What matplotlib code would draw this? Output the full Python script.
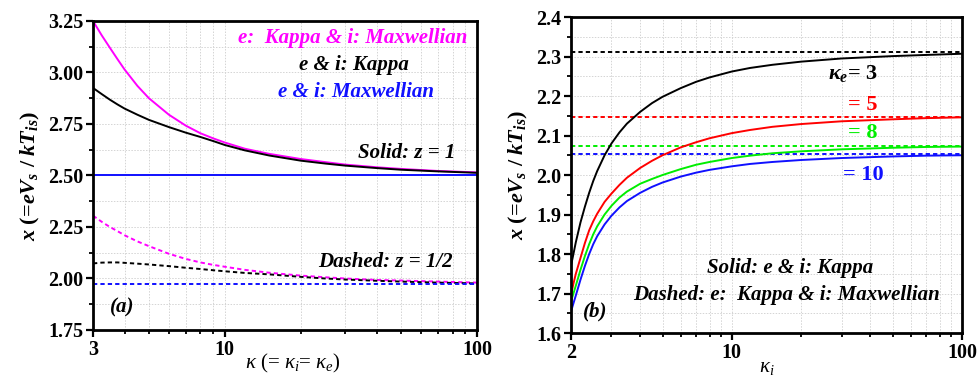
import numpy as np
import matplotlib
matplotlib.use("Agg")
import matplotlib.pyplot as plt
from matplotlib.ticker import FixedLocator, MultipleLocator, NullFormatter, FixedFormatter

plt.rcParams['font.family'] = 'Liberation Serif'
plt.rcParams['mathtext.fontset'] = 'custom'
plt.rcParams['mathtext.rm'] = 'Liberation Serif'
plt.rcParams['mathtext.it'] = 'Liberation Serif:italic'
plt.rcParams['mathtext.bf'] = 'Liberation Serif:bold'
plt.rcParams['mathtext.bfit'] = 'Liberation Serif:bold:italic'

# ---------------- Panel (a) data ----------------
kappa_a = [3, 3.25, 3.5, 3.75, 4, 4.5, 5, 6, 7, 8, 9, 10, 12, 15, 20, 25, 30, 40, 50, 70, 100]
a_kappa_max_z1 = [3.25, 3.18, 3.12, 3.065, 3.015, 2.935, 2.875, 2.795, 2.742, 2.705, 2.68, 2.66,
                  2.63, 2.605, 2.58, 2.565, 2.553, 2.54, 2.532, 2.522, 2.515]
a_kappa_kappa_z1 = [2.925, 2.895, 2.868, 2.845, 2.825, 2.795, 2.77, 2.735, 2.708, 2.687, 2.667, 2.648,
                    2.622, 2.597, 2.572, 2.558, 2.548, 2.536, 2.528, 2.52, 2.513]
a_max_max_z1 = [2.50] * len(kappa_a)
a_kappa_max_z05 = [2.305, 2.275, 2.25, 2.23, 2.21, 2.18, 2.157, 2.12, 2.095, 2.078, 2.066, 2.057,
                   2.042, 2.028, 2.014, 2.006, 2.0, 1.993, 1.99, 1.985, 1.98]
a_kappa_kappa_z05 = [2.073, 2.077, 2.078, 2.078, 2.076, 2.072, 2.068, 2.06, 2.052, 2.046, 2.04, 2.035,
                     2.027, 2.02, 2.008, 2.0, 1.995, 1.989, 1.985, 1.98, 1.976]
a_max_max_z05 = [1.972] * len(kappa_a)

# ---------------- Panel (b) data ----------------
kappa_i = [2, 2.05, 2.1, 2.2, 2.3, 2.4, 2.5, 2.6, 2.8, 3.0, 3.25, 3.5, 4, 4.5, 5, 6, 7, 8,
           10, 12, 15, 20, 30, 50, 70, 100]
b_ke3 = [1.77, 1.80, 1.83, 1.88, 1.92, 1.955, 1.985, 2.01, 2.05, 2.08, 2.108, 2.13, 2.16, 2.182,
         2.198, 2.22, 2.236, 2.247, 2.262, 2.271, 2.279, 2.287, 2.295, 2.301, 2.304, 2.307]
b_ke5 = [1.696, 1.725, 1.75, 1.79, 1.828, 1.86, 1.883, 1.902, 1.932, 1.953, 1.975, 1.993, 2.018,
         2.036, 2.05, 2.07, 2.083, 2.093, 2.106, 2.114, 2.122, 2.129, 2.136, 2.141, 2.144, 2.146]
b_ke8 = [1.679, 1.70, 1.72, 1.76, 1.795, 1.825, 1.85, 1.87, 1.90, 1.922, 1.943, 1.958, 1.978,
         1.99, 2.0, 2.015, 2.026, 2.033, 2.043, 2.049, 2.055, 2.06, 2.065, 2.069, 2.071, 2.072]
b_ke10 = [1.654, 1.675, 1.695, 1.735, 1.77, 1.80, 1.825, 1.845, 1.875, 1.897, 1.918, 1.934, 1.955,
          1.97, 1.981, 1.996, 2.006, 2.013, 2.022, 2.028, 2.033, 2.038, 2.043, 2.047, 2.049, 2.05]
b_dash_levels = [2.312, 2.148, 2.074, 2.052]
b_labels = [r'$\mathbfit{\kappa}_{\mathbfit{e}}$= 3', '= 5', '= 8', '= 10']

MAG = '#ff00ff'
BLU = '#1010ff'
RED = '#ff0000'
GRN = '#00ee00'
colors_b = ['black', RED, GRN, BLU]

fig = plt.figure(figsize=(9.78, 3.83), dpi=100)
axa = fig.add_axes([0.0951, 0.1384, 0.3926, 0.8068])
axb = fig.add_axes([0.5838, 0.1305, 0.3998, 0.8251])

lw = 1.4
dash = (0, (2.2, 1.6))

def style(ax, xmajor, xlabels, xminor, ymaj, ymin, ylim, xlim, yfmt):
    ax.set_xscale('log')
    ax.set_xlim(*xlim)
    ax.set_ylim(*ylim)
    ax.xaxis.set_major_locator(FixedLocator(xmajor))
    ax.xaxis.set_major_formatter(FixedFormatter(xlabels))
    ax.xaxis.set_minor_locator(FixedLocator(xminor))
    ax.xaxis.set_minor_formatter(NullFormatter())
    ax.yaxis.set_major_locator(MultipleLocator(ymaj))
    ax.yaxis.set_minor_locator(MultipleLocator(ymin))
    ax.yaxis.set_major_formatter(plt.FuncFormatter(lambda v, p: yfmt.format(v)))
    ax.grid(True, which='both', color='#d4d4d4', linestyle=(0, (1.5, 1.5)), linewidth=0.7)
    ax.set_axisbelow(True)
    for s in ax.spines.values():
        s.set_linewidth(2.0)
    ax.tick_params(which='major', direction='out', length=5, width=1.6,
                   labelsize=14.5, top=False, right=False, pad=2)
    ax.tick_params(which='minor', direction='out', length=3, width=1.3, top=False, right=False)
    for lab in ax.get_xticklabels() + ax.get_yticklabels():
        lab.set_fontweight('bold')

ylab = r'$\mathbfit{x}$ (=$\mathbfit{eV}_{\mathbfit{s}}$ / $\mathbfit{kT}_{\mathbfit{is}}$)'

# Panel (a)
axa.plot(kappa_a, a_kappa_max_z1, color=MAG, lw=lw)
axa.plot(kappa_a, a_kappa_kappa_z1, color='black', lw=lw)
axa.plot(kappa_a, a_max_max_z1, color=BLU, lw=lw)
axa.plot(kappa_a, a_kappa_max_z05, color=MAG, lw=lw, linestyle=dash)
axa.plot(kappa_a, a_kappa_kappa_z05, color='black', lw=lw, linestyle=dash)
axa.plot(kappa_a, a_max_max_z05, color=BLU, lw=lw, linestyle=dash)
style(axa, [3, 10, 100], ['3', '10', '100'],
      [4, 5, 6, 7, 8, 9, 20, 30, 40, 50, 60, 70, 80, 90],
      0.25, 0.125, (1.75, 3.25), (3, 100), '{:.2f}')

tkw = dict(fontweight='bold', fontstyle='italic', transform=axa.transAxes, fontsize=15)
axa.text(0.974, 0.946, 'e:  Kappa & i: Maxwellian', color=MAG, ha='right', va='center', **tkw)
axa.text(0.822, 0.859, 'e & i: Kappa', color='black', ha='right', va='center', **tkw)
axa.text(0.887, 0.771, 'e & i: Maxwellian', color=BLU, ha='right', va='center', **tkw)
axa.text(0.945, 0.573, 'Solid: z = 1', color='black', ha='right', va='center', **tkw)
axa.text(0.937, 0.220, 'Dashed: z = 1/2', color='black', ha='right', va='center', **tkw)
axa.text(0.045, 0.072, '(a)', color='black', ha='left', va='center', **tkw)

axa.set_ylabel(ylab, fontsize=16, fontweight='bold', labelpad=4)
axa.set_xlabel(r'$\kappa$ (= $\kappa_i$= $\kappa_e$)', fontsize=15)
axa.xaxis.set_label_coords(0.52, -0.07)

# Panel (b)
for lev, c in zip(b_dash_levels, colors_b):
    axb.plot([kappa_i[0], kappa_i[-1]], [lev, lev], color=c, lw=lw, linestyle=dash)
for ys, c in zip([b_ke3, b_ke5, b_ke8, b_ke10], colors_b):
    axb.plot(kappa_i, ys, color=c, lw=lw)
style(axb, [2, 10, 100], ['2', '10', '100'],
      [3, 4, 5, 6, 7, 8, 9, 20, 30, 40, 50, 60, 70, 80, 90],
      0.1, 0.05, (1.6, 2.4), (2, 100), '{:.1f}')

tkb = dict(fontweight='bold', transform=axb.transAxes, fontsize=16)
axb.text(0.784, 0.820, b_labels[0], color='black', ha='right', va='center', **tkb)
axb.text(0.784, 0.722, b_labels[1], color=RED, ha='right', va='center', **tkb)
axb.text(0.784, 0.633, b_labels[2], color=GRN, ha='right', va='center', **tkb)
axb.text(0.800, 0.500, b_labels[3], color=BLU, ha='right', va='center', **tkb)
tkb2 = dict(fontweight='bold', fontstyle='italic', transform=axb.transAxes, fontsize=15)
axb.text(0.772, 0.206, 'Solid: e & i: Kappa', color='black', ha='right', va='center', **tkb2)
axb.text(0.944, 0.120, 'Dashed: e:  Kappa & i: Maxwellian', color='black', ha='right', va='center', **tkb2)
axb.text(0.032, 0.067, '(b)', color='black', ha='left', va='center', **tkb2)

axb.set_ylabel(ylab, fontsize=16, fontweight='bold', labelpad=4)
axb.set_xlabel(r'$\kappa_i$', fontsize=15)
axb.xaxis.set_label_coords(0.50, -0.08)

fig.savefig('out.png', dpi=100)
